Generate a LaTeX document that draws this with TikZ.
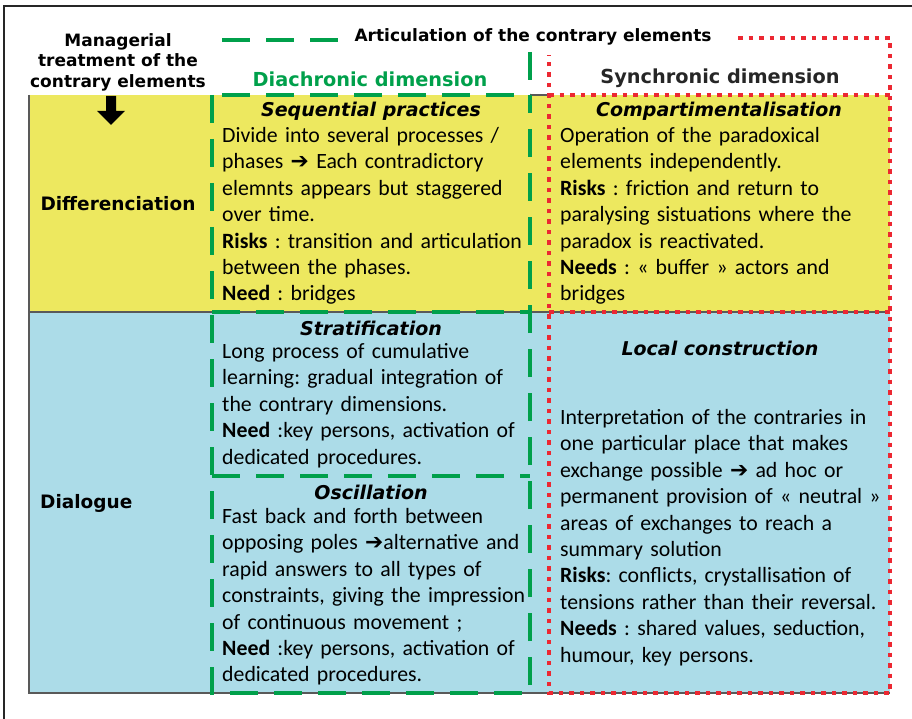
\documentclass[tikz,border=0pt]{standalone}
\usepackage{fontspec}
\setmainfont{Carlito}
\newfontfamily\vsans{DejaVu Sans}
\definecolor{ybg}{RGB}{237,232,95}
\definecolor{bbg}{RGB}{172,220,232}
\definecolor{gr}{RGB}{0,160,75}
\definecolor{rd}{RGB}{236,40,50}
\newcommand\harr{{\vsans ➔}}
\frenchspacing
\begin{document}
\begin{tikzpicture}[x=1pt,y=-1pt,
  body/.style={anchor=base west, text width=400pt, align=left, inner sep=0pt, font=\frenchspacing\fontsize{21.8}{26.4}\selectfont},
  headtxt/.style={inner sep=0pt, font=\vsans\bfseries\itshape\fontsize{19}{22}\selectfont},
  lbl/.style={inner sep=0pt, font=\vsans\bfseries\fontsize{17}{20.5}\selectfont},
  gdash/.style={draw=gr, line width=4pt, dash pattern=on 28pt off 16pt},
  rdot/.style={draw=rd, line width=4.5pt, dash pattern=on 4.5pt off 6pt},
  gridline/.style={draw=black!65, line width=1.2pt}]
\useasboundingbox (0,0) rectangle (912,719);
% outer frame
\draw[line width=2.5pt, black!85] (4,719) -- (4,6) -- (912,6);
% backgrounds
\fill[ybg] (29,95) rectangle (890,312);
\fill[bbg] (29,312) rectangle (890,693);
% table grid
\draw[gridline] (29,95) -- (29,693) -- (890,693);
\draw[gridline] (29,312) -- (890,312);
\draw[gridline] (530,95) -- (549,95);
% green dashed column
\draw[gdash] (222,40) -- (338,40);
\draw[gdash] (530,52) -- (530,95);
\draw[gdash] (222,95) -- (530,95);
\draw[gdash] (212,95) -- (212,693) -- (530,693) -- (530,95);
\draw[gdash] (212,312) -- (530,312);
\draw[gdash] (212,476) -- (530,476);
% red dotted column
\draw[rdot] (738,38) -- (890,38) -- (890,693) -- (549,693) -- (549,55);
\draw[rdot] (549,95) -- (890,95);
\draw[rdot] (549,312) -- (890,312);
% black arrow
\fill[black] (106,96) -- (116,96) -- (116,111) -- (125,111) -- (111,125) -- (97,111) -- (106,111) -- cycle;
% labels
\node[lbl, align=center] (manag) at (118,62) {Managerial\\treatment of the\\contrary elements};
\node[lbl] (artic) at (533,37) {Articulation of the contrary elements};
\node[lbl, text=gr, font=\vsans\bfseries\fontsize{19.3}{22}\selectfont] (diach) at (370,79) {Diachronic dimension};
\node[lbl, text=black!85, font=\vsans\bfseries\fontsize{19.3}{22}\selectfont] (synch) at (720,78) {Synchronic dimension};
\node[lbl, font=\vsans\bfseries\fontsize{18.5}{22}\selectfont] (diff) at (118,204) {Differenciation};
\node[lbl, anchor=west, font=\vsans\bfseries\fontsize{18.5}{22}\selectfont] (dial) at (40,503) {Dialogue};
% headings
\node[headtxt] (hseq) at (371,111) {Sequential practices};
\node[headtxt] (hcomp) at (719,111) {Compartimentalisation};
\node[headtxt] (hstrat) at (371,328) {Stratification};
\node[headtxt] (hosc) at (371,492) {Oscillation};
\node[headtxt] (hloc) at (720,348) {Local construction};
% body texts
\node[body] (tseq) at (222,142.5) {Divide into several processes /\\
phases \harr{} Each contradictory\\
elemnts appears but staggered\\
over time.\\
\textbf{Risks} : transition and articulation\\
between the phases.\\
\textbf{Need} : bridges};
\node[body] (tcomp) at (560,142.5) {Operation of the paradoxical\\
elements independently.\\
\textbf{Risks} : friction and return to\\
paralysing sistuations where the\\
paradox is reactivated.\\
\textbf{Needs} : « buffer » actors and\\
bridges};
\node[body] (tstrat) at (222,358.5) {Long process of cumulative\\
learning: gradual integration of\\
the contrary dimensions.\\
\textbf{Need} :key persons, activation of\\
dedicated procedures.};
\node[body] (tosc) at (222,523.5) {Fast back and forth between\\
opposing poles \harr alternative and\\
rapid answers to all types of\\
constraints, giving the impression\\
of continuous movement ;\\
\textbf{Need} :key persons, activation of\\
dedicated procedures.};
\node[body] (tloc) at (560,424.5) {Interpretation of the contraries in\\
one particular place that makes\\
exchange possible \harr{} ad hoc or\\
permanent provision of « neutral »\\
areas of exchanges to reach a\\
summary solution\\
\textbf{Risks}: conflicts, crystallisation of\\
tensions rather than their reversal.\\
\textbf{Needs} : shared values, seduction,\\
humour, key persons.};
\end{tikzpicture}
\end{document}
